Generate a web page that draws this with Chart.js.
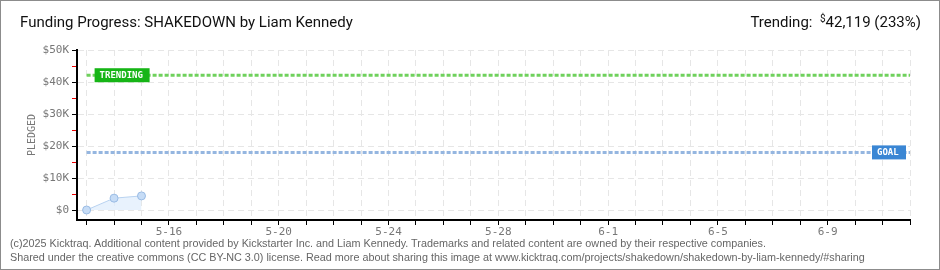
<!DOCTYPE html>
<html>
<head>
<meta charset="utf-8">
<script src="https://cdn.jsdelivr.net/npm/chart.js@4"></script>
<style>
  html, body { margin: 0; padding: 0; background: #fff; }
  #wrap { position: relative; width: 940px; height: 270px; box-sizing: border-box; border: 1px solid #8c8c8c; overflow: hidden; }
  #chart { position: absolute; left: -1px; top: -1px; }
  .title { position: absolute; left: 19px; top: 12px; font: 15px Roboto, sans-serif; color: #111; }
  .trend { position: absolute; right: 18px; top: 12px; font: 15px Roboto, sans-serif; color: #111; }
  .trend sup { font-size: 10px; vertical-align: 5px; }
  .foot { position: absolute; left: 9px; font: 10.8px "Liberation Sans", sans-serif; color: #666; white-space: nowrap; }
</style>
</head>
<body>
<div id="wrap">
  <canvas id="chart" width="940" height="270"></canvas>
  <div class="title">Funding Progress: SHAKEDOWN by Liam Kennedy</div>
  <div class="trend">Trending:&nbsp; <sup>$</sup>42,119 (233%)</div>
  <div class="foot" style="top:236px">(c)2025 Kicktraq. Additional content provided by Kickstarter Inc. and Liam Kennedy. Trademarks and related content are owned by their respective companies.</div>
  <div class="foot" style="top:250px">Shared under the creative commons (CC BY-NC 3.0) license. Read more about sharing this image at www.kicktraq.com/projects/shakedown/shakedown-by-liam-kennedy/#sharing</div>
</div>
<script>
// dates on the x axis (one per day)
const days = [
  "5-13", "5-14", "5-15", "5-16", "5-17", "5-18", "5-19", "5-20",
  "5-21", "5-22", "5-23", "5-24", "5-25", "5-26", "5-27", "5-28",
  "5-29", "5-30", "5-31", "6-1", "6-2", "6-3", "6-4", "6-5",
  "6-6", "6-7", "6-8", "6-9", "6-10", "6-11", "6-12",
];
// pledged totals so far
const pledged = [0, 3700, 4400];
const trending = 42119;
const goal = 18000;
const yTicks = [0, 5000, 10000, 15000, 20000, 25000, 30000, 35000, 40000, 45000, 50000];

const lastDay = days.length - 1;

const tagPlugin = {
  id: "tags",
  afterDatasetsDraw(chart) {
    const ctx = chart.ctx;
    const xs = chart.scales.x;
    const ys = chart.scales.y;
    ctx.save();
    ctx.font = "bold 9px 'DejaVu Sans Mono', monospace";
    ctx.textBaseline = "middle";

    let y = ys.getPixelForValue(trending);
    let x0 = xs.getPixelForValue(0) + 8;
    ctx.fillStyle = "#16b516";
    ctx.fillRect(x0, y - 7, 55, 14);
    ctx.fillStyle = "#fff";
    ctx.fillText("TRENDING", x0 + 5, y);

    y = ys.getPixelForValue(goal);
    x0 = xs.getPixelForValue(lastDay) - 38;
    ctx.fillStyle = "#3a86d4";
    ctx.fillRect(x0, y - 7, 34, 14);
    ctx.fillStyle = "#fff";
    ctx.fillText("GOAL", x0 + 5, y);
    ctx.restore();
  }
};

const ctx = document.getElementById("chart").getContext("2d");

const chart = new Chart(ctx, {
  type: "line",
  data: {
    datasets: [
      {
        label: "Pledged",
        data: pledged.map((v, i) => ({ x: i, y: v })),
        borderColor: "#b8d2f0",
        borderWidth: 1,
        backgroundColor: "rgba(222,236,252,0.7)",
        fill: "origin",
        pointRadius: 4,
        pointBackgroundColor: "#c6dcf6",
        pointBorderColor: "#99bbe4",
        pointBorderWidth: 1,
        tension: 0,
      },
      {
        label: "Trending",
        data: [{ x: 0, y: trending }, { x: lastDay, y: trending }],
        borderColor: "#6fd15c",
        borderWidth: 3,
        borderDash: [4, 2],
        pointRadius: 0,
        fill: false,
      },
      {
        label: "Goal",
        data: [{ x: 0, y: goal }, { x: lastDay, y: goal }],
        borderColor: "#95b6e0",
        borderWidth: 3,
        borderDash: [4, 2],
        pointRadius: 0,
        fill: false,
      },
    ],
  },
  options: {
    responsive: false,
    animation: false,
    layout: { padding: { top: 50, right: 30, left: 0, bottom: 0 } },
    plugins: {
      legend: { display: false },
      tooltip: { enabled: false },
    },
    scales: {
      x: {
        type: "linear",
        min: -0.35,
        max: lastDay,
        afterBuildTicks: s => { s.ticks = days.map((d, i) => ({ value: i })); },
        afterFit: s => { s.height = 50; },
        grid: {
          color: "#e6e6e6",
          tickColor: "#000",
          tickLength: 5,
          drawOnChartArea: true,
        },
        border: { color: "#000", width: 2, dash: [6, 4] },
        ticks: {
          autoSkip: false,
          maxRotation: 0,
          padding: 1,
          color: "#777",
          font: { family: "'DejaVu Sans Mono', monospace", size: 11 },
          callback: v => ((v - 3) % 4 === 0 ? days[v] : ""),
        },
      },
      y: {
        min: -3125,
        max: 50000,
        afterBuildTicks: s => { s.ticks = yTicks.map(v => ({ value: v })); },
        afterFit: s => { s.width = 77; },
        grid: {
          color: c => (c.tick && c.tick.value % 10000 === 0 ? "#e6e6e6" : "rgba(0,0,0,0)"),
          tickColor: c => (c.tick && c.tick.value % 10000 === 0 ? "#000" : "#e00"),
          tickLength: 5,
        },
        border: { color: "#000", width: 2, dash: [6, 4] },
        ticks: {
          padding: 3,
          color: "#777",
          font: { family: "'DejaVu Sans Mono', monospace", size: 11 },
          callback: v => (v % 10000 === 0 ? (v === 0 ? "$0" : "$" + v / 1000 + "K") : ""),
        },
        title: {
          display: true,
          text: "PLEDGED",
          color: "#777",
          padding: { top: 26, bottom: 0 },
          font: { family: "'DejaVu Sans Mono', monospace", size: 10 },
        },
      },
    },
  },
  plugins: [tagPlugin],
});
</script>
</body>
</html>
